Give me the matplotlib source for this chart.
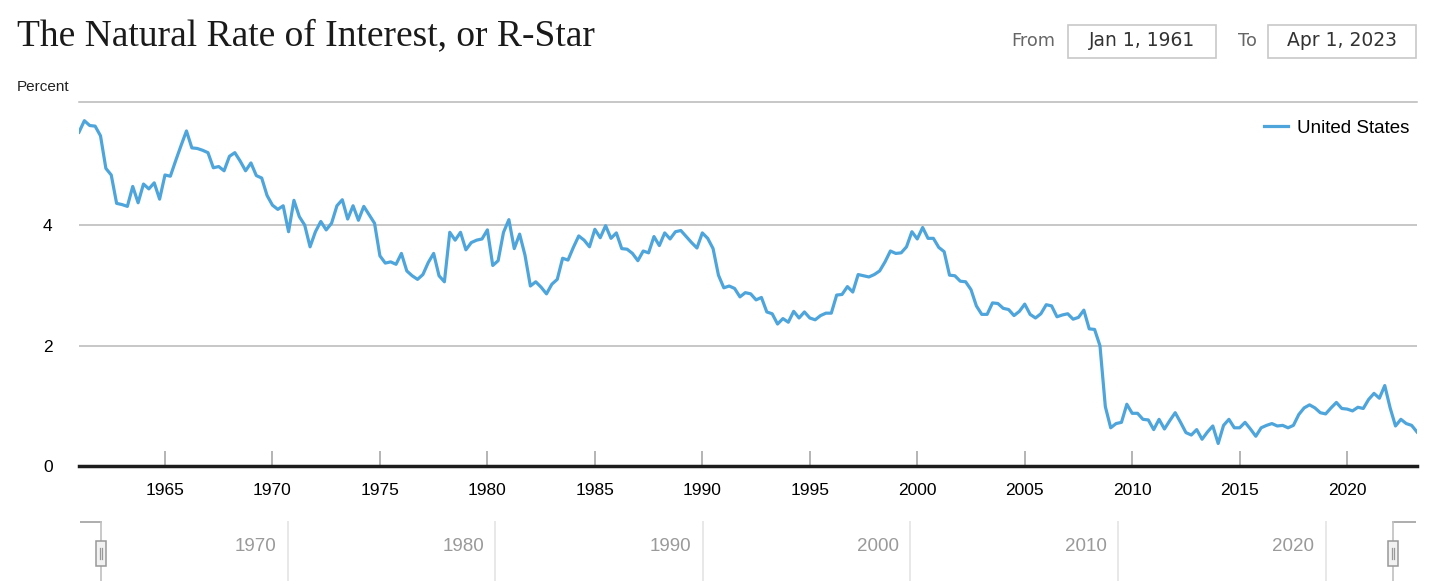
import matplotlib.pyplot as plt
from matplotlib.patches import Rectangle

W, H = 1456, 581

title = 'The Natural Rate of Interest, or R-Star'
series_name = 'United States'
date_from = 'Jan 1, 1961'
date_to = 'Apr 1, 2023'

# quarterly values, starting 1961 Q1
start_year = 1961
rstar = [
    5.54, 5.73, 5.65, 5.64, 5.48, 4.94, 4.83, 4.36, 4.34, 4.31,
    4.64, 4.37, 4.68, 4.60, 4.70, 4.43, 4.83, 4.81, 5.07, 5.32,
    5.56, 5.28, 5.27, 5.24, 5.20, 4.95, 4.97, 4.90, 5.14, 5.20,
    5.06, 4.90, 5.03, 4.82, 4.78, 4.49, 4.33, 4.26, 4.32, 3.89,
    4.41, 4.14, 4.00, 3.64, 3.89, 4.06, 3.92, 4.03, 4.32, 4.42,
    4.10, 4.32, 4.08, 4.31, 4.17, 4.03, 3.49, 3.37, 3.39, 3.35,
    3.53, 3.24, 3.16, 3.10, 3.18, 3.38, 3.53, 3.16, 3.06, 3.88,
    3.75, 3.88, 3.59, 3.71, 3.75, 3.77, 3.92, 3.33, 3.41, 3.88,
    4.09, 3.61, 3.85, 3.50, 2.99, 3.06, 2.97, 2.86, 3.02, 3.10,
    3.45, 3.42, 3.63, 3.82, 3.75, 3.64, 3.93, 3.79, 3.99, 3.78,
    3.87, 3.61, 3.60, 3.53, 3.41, 3.57, 3.54, 3.81, 3.66, 3.87,
    3.77, 3.89, 3.91, 3.81, 3.71, 3.62, 3.87, 3.78, 3.61, 3.17,
    2.96, 2.99, 2.95, 2.81, 2.88, 2.86, 2.76, 2.80, 2.56, 2.53,
    2.36, 2.45, 2.39, 2.57, 2.46, 2.56, 2.46, 2.43, 2.50, 2.54,
    2.54, 2.84, 2.85, 2.98, 2.89, 3.18, 3.16, 3.14, 3.18, 3.24,
    3.39, 3.57, 3.53, 3.54, 3.64, 3.89, 3.77, 3.96, 3.78, 3.78,
    3.63, 3.56, 3.17, 3.16, 3.07, 3.06, 2.93, 2.66, 2.52, 2.52,
    2.71, 2.70, 2.62, 2.60, 2.50, 2.57, 2.69, 2.52, 2.46, 2.53,
    2.68, 2.66, 2.48, 2.51, 2.53, 2.44, 2.47, 2.59, 2.28, 2.27,
    2.00, 0.99, 0.64, 0.71, 0.73, 1.03, 0.88, 0.88, 0.78, 0.77,
    0.61, 0.78, 0.62, 0.76, 0.89, 0.73, 0.56, 0.52, 0.61, 0.45,
    0.57, 0.67, 0.38, 0.68, 0.78, 0.64, 0.64, 0.73, 0.62, 0.50,
    0.64, 0.68, 0.71, 0.67, 0.68, 0.64, 0.68, 0.86, 0.97, 1.02,
    0.97, 0.89, 0.87, 0.97, 1.06, 0.96, 0.95, 0.92, 0.98, 0.96,
    1.11, 1.21, 1.13, 1.34, 0.97, 0.67, 0.78, 0.71, 0.68, 0.57,
]
years = [start_year + i / 4 for i in range(len(rstar))]

y_ticks = [0, 2, 4]
x_ticks = list(range(1965, 2021, 5))
nav_decades = [1970, 1980, 1990, 2000, 2010, 2020]

line_color = '#4ea5dc'
sans = 'Liberation Sans'

fig = plt.figure(figsize=(W / 100, H / 100), dpi=100)

# main chart
ax = fig.add_axes([79 / W, 1 - 466.4 / H, (1417 - 79) / W, (466.4 - 102) / H])
ax.plot(years, rstar, color=line_color, lw=2.3, label=series_name,
        solid_joinstyle='round', zorder=3)
ax.set_xlim(years[0], years[-1])
ax.set_ylim(0, 6.04)
ax.set_yticks(y_ticks)
ax.set_xticks(x_ticks)
ax.grid(axis='y', color='#b8b8b8', lw=1.1)
ax.set_axisbelow(True)
for s in ['left', 'right']:
    ax.spines[s].set_visible(False)
ax.spines['top'].set_color('#b8b8b8')
ax.spines['top'].set_linewidth(1.1)
ax.spines['bottom'].set_color('#1c1c1c')
ax.spines['bottom'].set_linewidth(2.5)
ax.spines['bottom'].set_zorder(4)
ax.tick_params(axis='y', length=0, pad=19, labelsize=12.5)
ax.tick_params(axis='x', direction='in', length=11, width=1.2,
               color='#a8a8a8', pad=12, labelsize=12.5)
for lab in ax.get_xticklabels() + ax.get_yticklabels():
    lab.set_fontfamily(sans)

leg = ax.legend(loc='upper right', bbox_to_anchor=(1.0, 0.972),
                frameon=False, handlelength=1.28, handletextpad=0.48,
                borderaxespad=0.0, prop={'family': sans, 'size': 13.5})

# navigator strip
px_per_year = (1393 - 101) / (years[-1] - years[0])
nav = fig.add_axes([80 / W, 0, (1416 - 80) / W, (581 - 521) / H])
nav.set_xlim(years[0] - (101 - 80) / px_per_year,
             years[-1] + (1416 - 1393) / px_per_year)
nav.set_ylim(0, 1)
nav.axis('off')
xl, xr = nav.get_xlim()
nav.plot([xl, years[0]], [0.99, 0.99], color='#a0a0a0', lw=1.2)
nav.plot([years[-1], xr], [0.99, 0.99], color='#a0a0a0', lw=1.2)
nav.axvline(years[0], color='#c0c0c0', lw=1.2)
nav.axvline(years[-1], color='#c0c0c0', lw=1.2)
for d in nav_decades:
    nav.axvline(d, color='#e2e2e2', lw=1.1)
    nav.text(d - 0.55, 0.57, str(d), ha='right', va='center',
             color='#9a9a9a', fontsize=13.5, family=sans)
hw = 5.5 / px_per_year
for hx in [years[0], years[-1]]:
    nav.add_patch(Rectangle((hx - hw, 0.25), 2 * hw, 0.42,
                            facecolor='#f2f2f2', edgecolor='#999999',
                            lw=1.1, zorder=3))
    for off in [-1.4, 1.4]:
        nav.plot([hx + off / px_per_year] * 2, [0.37, 0.55],
                 color='#999999', lw=0.9, zorder=4)

# header
fig.text(17 / W, 1 - 36 / H, title, fontsize=27, family='Liberation Serif',
         va='center', ha='left', color='#1a1a1a')
fig.text(17 / W, 1 - 87 / H, 'Percent', fontsize=11, family=sans,
         va='center', ha='left', color='#222222')

box_font = 'DejaVu Sans'
for label, lab_right, box_left, text in [('From', 1055, 1068, date_from),
                                          ('To', 1257, 1268, date_to)]:
    fig.text(lab_right / W, 1 - 41 / H, label, fontsize=12.8, family=box_font,
             ha='right', va='center', color='#666666')
    fig.add_artist(Rectangle((box_left / W, 1 - 58 / H), 148 / W, 33 / H,
                             transform=fig.transFigure, facecolor='white',
                             edgecolor='#c8c8c8', lw=1.2))
    fig.text((box_left + 74) / W, 1 - 41 / H, text, fontsize=13.5,
             family=box_font, ha='center', va='center', color='#333333')

fig.savefig('out.png', dpi=100)
